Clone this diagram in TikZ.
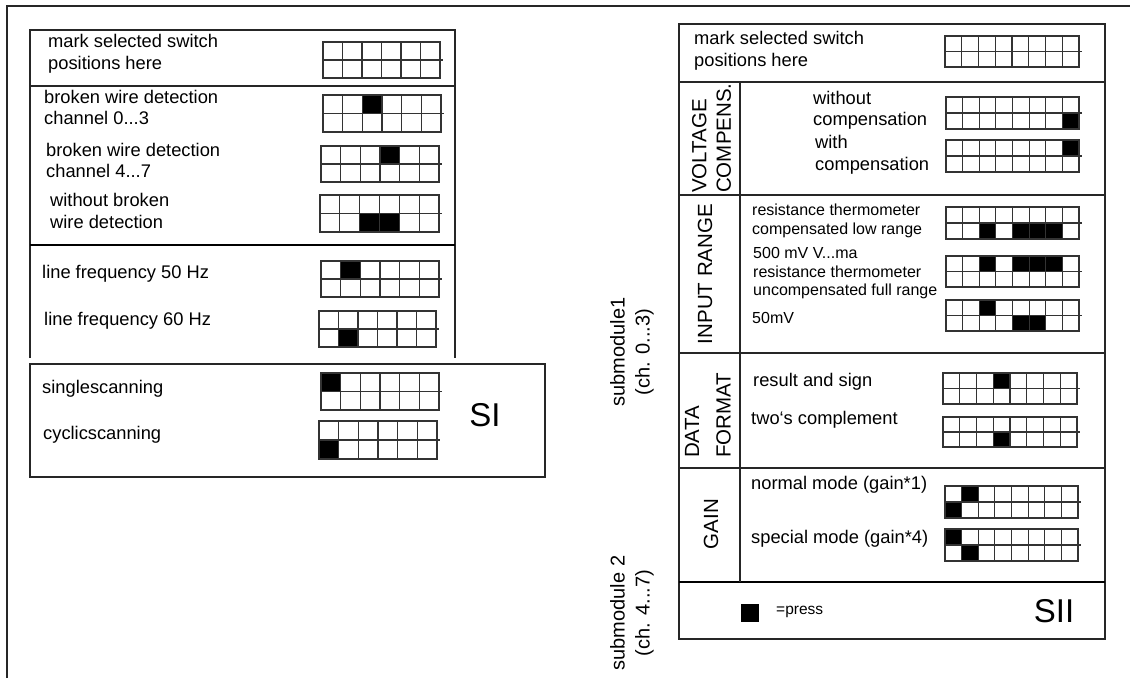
\documentclass[tikz,border=0pt]{standalone}
\usepackage{fontspec}
\setmainfont{Liberation Sans}

\tikzset{
  frame/.style={line width=1.4pt, draw=black!85},
  heavyframe/.style={line width=2.4pt, draw=black},
  gridline/.style={line width=1.1pt, draw=black!80},
  lbl/.style={anchor=west, inner sep=0pt, align=left, font=\fontsize{18.3}{21.5}\selectfont},
  smalllbl/.style={anchor=west, inner sep=0pt, align=left, font=\fontsize{16}{18.5}\selectfont},
  caplbl/.style={rotate=90, inner sep=0pt, align=left, font=\fontsize{20.5}{24.5}\selectfont},
  sublbl/.style={rotate=90, inner sep=0pt, align=center, font=\fontsize{20}{25}\selectfont},
  idlbl/.style={inner sep=0pt, font=\fontsize{33}{36}\selectfont},
}

% cells pressed: list of col/row
\newcommand{\swfill}[6]{%
  \foreach \cc/\rr in {#6}
    \fill ({#1+(\cc-1)*(#3-#1)/#5},{#2+(\rr-1)*(#4-#2)/2}) rectangle ++({(#3-#1)/#5},{(#4-#2)/2});
}
% switch block: left, top, right, bottom, columns
\newcommand{\swgrid}[5]{%
  \draw[gridline] (#1,#2) rectangle (#3,#4);
  \draw[gridline] (#1,{(#2+#4)/2}) -- ({#3+3},{(#2+#4)/2});
  \pgfmathtruncatemacro{\lastcol}{#5-1}
  \foreach \cc in {1,...,\lastcol}
    \draw[gridline] ({#1+\cc*(#3-#1)/#5},#2) -- ({#1+\cc*(#3-#1)/#5},#4);
}

\begin{document}
\begin{tikzpicture}[x=1pt,y=-1pt]
  \useasboundingbox (0,0) rectangle (1130,678);
  \draw[frame] (7,678) -- (7,6) -- (1130,6);

  % switch SI
  \draw[frame] (30,358) -- (30,30) -- (455,30) -- (455,358);
  \draw[frame] (30,86) -- (455,86);
  \draw[heavyframe] (30,245) -- (455,245);
  \draw[frame] (30,364) rectangle (545,477);

  \node[lbl] (markI) at (48,54) {mark selected switch\\positions here};
  \node[lbl] (bwdlow) at (44,107.5) {broken wire detection\\channel 0...3};
  \node[lbl] (bwdhigh) at (46,160.5) {broken wire detection\\channel 4...7};
  \node[lbl] (nobwd) at (50,211) {without broken\\wire detection};
  \node[lbl] (lffifty) at (42,274) {line frequency 50 Hz};
  \node[lbl] (lfsixty) at (44,321) {line frequency 60 Hz};
  \node[lbl] (single) at (42,389) {singlescanning};
  \node[lbl] (cyclic) at (43,435) {cyclicscanning};
  \node[idlbl] (si) at (485,415) {SI};

  \swgrid{323}{42}{440}{78}{6}
  \swfill{323}{95}{441}{132}{6}{3/1}
  \swgrid{323}{95}{441}{132}{6}
  \swfill{321}{146}{439}{182}{6}{4/1}
  \swgrid{321}{146}{439}{182}{6}
  \swfill{320}{195}{439}{232}{6}{3/2,4/2}
  \swgrid{320}{195}{439}{232}{6}
  \swfill{321}{261}{439}{297}{6}{2/1}
  \swgrid{321}{261}{439}{297}{6}
  \swfill{319}{311}{436}{347}{6}{2/2}
  \swgrid{319}{311}{436}{347}{6}
  \swfill{321}{373}{439}{410}{6}{1/1}
  \swgrid{321}{373}{439}{410}{6}
  \swfill{319}{421}{437}{459}{6}{1/2}
  \swgrid{319}{421}{437}{459}{6}

  % switch SII
  \draw[frame] (679,24) rectangle (1105,639);
  \foreach \yy in {82,195,353,468}
    \draw[frame] (679,\yy) -- (1105,\yy);
  \draw[heavyframe] (679,582) -- (1105,582);
  \draw[frame] (740,82) -- (740,582);

  \node[sublbl] (subone) at (632,352) {submodule1\\(ch. 0...3)};
  \node[sublbl] (subtwo) at (632,613) {submodule 2\\(ch. 4...7)};

  \node[lbl] (markII) at (694,51) {mark selected switch\\positions here};
  \node[caplbl, anchor=west] (voltcomp) at (711.5,193) {VOLTAGE\\COMPENS.};
  \node[lbl] (nocomp) at (813,110.5) {without\\compensation};
  \node[lbl] (withcomp) at (815,155) {with\\compensation};
  \node[caplbl] (inrange) at (705,274) {INPUT RANGE};
  \node[smalllbl] (rtlow) at (752,221) {resistance thermometer\\compensated low range};
  \node[smalllbl] (rtfull) at (753,273.5) {500 mV V...ma\\resistance thermometer\\uncompensated full range};
  \node[smalllbl] (mvfifty) at (752,318) {50mV};
  \node[caplbl, anchor=west, font=\fontsize{20.5}{31.5}\selectfont] (datafmt) at (708,458) {DATA\\FORMAT};
  \node[lbl] (ressign) at (753,382) {result and sign};
  \node[lbl] (twocomp) at (751,420) {two‘s complement};
  \node[caplbl] (gain) at (711,524) {GAIN};
  \node[lbl] (normal) at (751,485) {normal mode (gain*1)};
  \node[lbl] (special) at (751,539) {special mode (gain*4)};
  \node[fill=black, inner sep=0pt, minimum size=18pt] (presskey) at (750,613) {};
  \node[lbl, font=\fontsize{15.5}{18}\selectfont] (press) at (776,612) {=press};
  \node[idlbl] (sii) at (1054,611) {SII};

  \swgrid{945}{36}{1079}{67}{8}
  \swfill{946}{97}{1079}{129}{8}{8/2}
  \swgrid{946}{97}{1079}{129}{8}
  \swfill{946}{140}{1079}{172}{8}{8/1}
  \swgrid{946}{140}{1079}{172}{8}
  \swfill{946}{207}{1079}{239}{8}{3/2,5/2,6/2,7/2}
  \swgrid{946}{207}{1079}{239}{8}
  \swfill{946}{256}{1079}{287}{8}{3/1,5/1,6/1,7/1}
  \swgrid{946}{256}{1079}{287}{8}
  \swfill{946}{300}{1079}{331}{8}{3/1,5/2,6/2}
  \swgrid{946}{300}{1079}{331}{8}
  \swfill{943}{373}{1077}{404}{8}{4/1}
  \swgrid{943}{373}{1077}{404}{8}
  \swfill{943}{417}{1077}{447}{8}{4/2}
  \swgrid{943}{417}{1077}{447}{8}
  \swfill{945}{486}{1078}{518}{8}{2/1,1/2}
  \swgrid{945}{486}{1078}{518}{8}
  \swfill{945}{529}{1078}{561}{8}{1/1,2/2}
  \swgrid{945}{529}{1078}{561}{8}
\end{tikzpicture}
\end{document}
